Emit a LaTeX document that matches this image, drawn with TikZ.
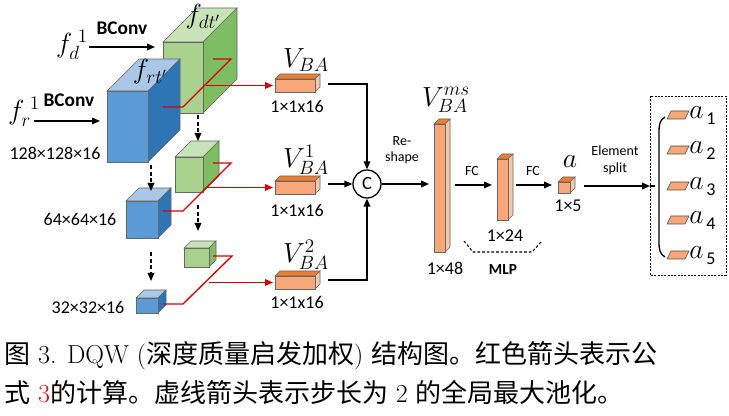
\documentclass[tikz,border=0pt]{standalone}
\usepackage{fontspec}
\setmainfont{Carlito}
\newfontfamily\cjk{Noto Sans CJK SC}
\newfontfamily\lmr{Latin Modern Roman}
\usetikzlibrary{arrows.meta}
\definecolor{bF}{HTML}{5B9BD5}\definecolor{bS}{HTML}{2E75B6}\definecolor{bT}{HTML}{A9C8E8}
\definecolor{gF}{HTML}{A9D18E}\definecolor{gS}{HTML}{7DBE63}\definecolor{gT}{HTML}{C9E3B8}
\definecolor{oF}{HTML}{F8A878}\definecolor{oS}{HTML}{F6C8AA}\definecolor{oT}{HTML}{ED7D31}
\newcommand\mycube[8]{%
 \fill[#8,draw=black!60] (#1,#2)--++(#5,-#5)--++(#3,0)--++(-#5,#5)--cycle;
 \fill[#7,draw=black!60] (#1+#3,#2)--++(#5,-#5)--++(0,#4)--++(-#5,#5)--cycle;
 \fill[#6,draw=black!60] (#1,#2) rectangle ++(#3,#4);}
\newcommand\cj[1]{{\cjk #1}}
\begin{document}
\begin{tikzpicture}[x=0.75pt,y=-0.75pt,
 lbl/.style={font=\fontsize{13.5}{15}\selectfont,inner sep=0pt},
 sm/.style={font=\fontsize{10.5}{12.5}\selectfont,inner sep=0pt,align=center},
 bf/.style={font=\fontsize{14.5}{16}\selectfont\bfseries,inner sep=0pt},
 mth/.style={font=\fontsize{20}{22}\selectfont,inner sep=0pt},
 arr/.style={-{Triangle[length=6pt,width=5pt]},line width=1pt},
 red/.style={draw=red!85!black,line width=1pt},
 rarr/.style={red,-{Triangle[length=6pt,width=5pt]}},
 darr/.style={arr,dashed,dash pattern=on 3pt off 2pt}]
\useasboundingbox (0,0) rectangle (729,416);
% cubes
\mycube{163}{42}{40}{71}{34}{gF}{gS}{gT}
\mycube{107}{91}{41}{71}{32}{bF}{bS}{bT}
\mycube{175}{157}{28}{35}{16}{gF}{gS}{gT}
\mycube{126}{201}{32}{37}{13}{bF}{bS}{bT}
\mycube{184}{248}{25}{19}{7}{gF}{gS}{gT}
\mycube{136}{298}{22}{15}{8}{bF}{bS}{bT}
\node[mth] (fdt) at (203,17) {$f_{dt'}$};
\node[mth] (frt) at (150,72) {$f_{rt'}$};
% inputs
\node[mth] (fd) at (72,45) {$f_d^{\;1}$};
\node[bf] (bc1) at (122,28) {BConv};
\draw[arr] (89,47) -- (155,47);
\node[mth] (fr) at (24,112) {$f_r^{\;1}$};
\node[bf] (bc2) at (69,100) {BConv};
\draw[arr] (34,121) -- (100,121);
\node[lbl] (s1) at (55,153) {128×128×16};
\node[lbl] (s2) at (80,219) {64×64×16};
\node[lbl] (s3) at (88,307) {32×32×16};
% dashed pooling arrows
\draw[darr] (198,115) -- (198,141);
\draw[darr] (151,165) -- (151,191);
\draw[darr] (198,205) -- (198,231);
\draw[darr] (151,252) -- (151,281);
% orange bars
\mycube{275}{79}{40}{13}{5}{oF}{oS}{oT}
\mycube{275}{181}{40}{13}{5}{oF}{oS}{oT}
\mycube{275}{276}{40}{13}{5}{oF}{oS}{oT}
\coordinate (b1) at (273,85.5);\coordinate (b2) at (273,187.5);\coordinate (b3) at (273,282.5);
\node[mth] (v1) at (306,60) {$V_{BA}$};
\node[mth] (v2) at (306,160) {$V_{BA}^{1}$};
\node[mth] (v3) at (306,255) {$V_{BA}^{2}$};
\node[lbl] (d1) at (297,106) {1×1x16};
\node[lbl] (d2) at (297,210) {1×1x16};
\node[lbl] (d3) at (297,302) {1×1x16};
% red lines
\draw[red] (163,107)--(183,107)--(231,59)--(213,59);
\draw[rarr] (206,85.5)--(b1);
\draw[red] (163,211)--(183,211)--(231,163)--(213,163);
\draw[rarr] (207,187.5)--(b2);
\draw[red] (163,304)--(183,304)--(232,256)--(213,256);
\draw[rarr] (209,282.5)--(b3);
% concat
\node[draw,circle,line width=1pt,minimum size=21pt,inner sep=0pt,font=\fontsize{14}{15}\selectfont] (C) at (367,184) {C};
\draw[arr] (328,84)-|(C);
\draw[arr] (328,184)--(C);
\draw[arr] (328,280)-|(C);
\coordinate (vb) at (429,184);
\draw[arr] (C)--(vb);
\node[sm] (rs) at (402,150) {Re-\\shape};
% V ms bar
\mycube{434}{124}{11}{128}{5}{oF}{oS}{oT}
\node[mth] (vms) at (446,100) {$V_{BA}^{ms}$};
\node[lbl] (d48) at (445,268) {1×48};
\draw[arr] (455,185)--(492,185);
\node[sm] (fc1) at (472,171) {FC};
\mycube{497}{159}{11}{61}{5}{oF}{oS}{oT}
\node[lbl] (d24) at (505,236) {1×24};
\draw[dashed,line width=0.8pt,dash pattern=on 2pt off 1.5pt] (464,241)--(473,252)--(532,252)--(542,241);
\node[inner sep=0pt,font=\fontsize{11.5}{13}\selectfont\bfseries] (mlp) at (503,270) {MLP};
\draw[arr] (516,185)--(552,185);
\node[sm] (fc2) at (533,171) {FC};
\mycube{558}{182}{12}{11}{5}{oF}{oS}{oT}
\node[mth] (a) at (570,162) {$a$};
\node[lbl] (d5) at (568,206) {1×5};
\draw[arr] (584,186)--(650,186);
\node[sm] (es) at (615,160) {Element\\split};
% split box
\draw[dashed,dash pattern=on 1.5pt off 1pt,line width=0.7pt] (650,96) rectangle (726,275);
\draw[line width=1pt] (650,186)--(655,186);
\draw[line width=1pt] (665,117) .. controls (660,120) and (659,124) .. (659,132) -- (659,242) .. controls (659,250) and (660,254) .. (665,257);
\foreach \i/\y in {1/115,2/150,3/186,4/220,5/255}{
 \fill[oF,draw=black!70] (667,\y+4)--(671,\y-4)--(689,\y-4)--(685,\y+4)--cycle;
 \node[mth,anchor=west] (a\i) at (689,\y-2) {$a$};
 \node[lbl,anchor=west] (i\i) at (706,\y+4) {\i};
}
% caption
\node[anchor=west,inner sep=0pt,font=\fontsize{19.5}{22}\selectfont\lmr] (cap1) at (4,356) {\cj{图} 3. DQW (\cj{深度质量启发加权}) \cj{结构图。红色箭头表示公}};
\node[anchor=west,inner sep=0pt,font=\fontsize{19.5}{22}\selectfont\lmr] (cap2) at (4,393) {\cj{式} \textcolor{red}{3}\cj{的计算。虚线箭头表示步长为} 2 \cj{的全局最大池化。}};
\end{tikzpicture}
\end{document}
